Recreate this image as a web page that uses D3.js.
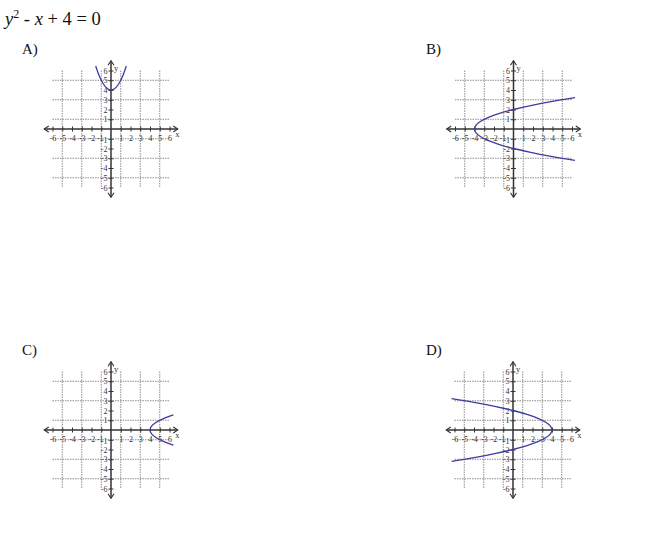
<!DOCTYPE html>
<html><head><meta charset="utf-8">
<script src="https://cdn.jsdelivr.net/npm/d3@7"></script>
<style>
html,body{margin:0;padding:0;background:#fff;}
svg text{font-family:"Liberation Serif","DejaVu Serif",serif;}
</style></head>
<body>
<svg id="chart" width="650" height="536"></svg>
<script>
// ---- data ----
const panelLabels = ["A)", "B)", "C)", "D)"];
const tickValues = [-6, -5, -4, -3, -2, -1, 1, 2, 3, 4, 5, 6];
const gridValues = [-5, -3, -1, 1, 3, 5];
// curve points [x, y]
const curveA = [[-1.57,6.46],[-1.2,5.44],[-0.8,4.64],[-0.4,4.16],[0,4],[0.4,4.16],[0.8,4.64],[1.2,5.44],[1.57,6.46]];
const curveB = [[6.3,-3.21],[3.84,-2.8],[1.76,-2.4],[0,-2],[-1.44,-1.6],[-2.56,-1.2],[-3.36,-0.8],[-3.84,-0.4],[-4,0],[-3.84,0.4],[-3.36,0.8],[-2.56,1.2],[-1.44,1.6],[0,2],[1.76,2.4],[3.84,2.8],[6.3,3.21]];
const curveC = [[6.4,-1.55],[5.44,-1.2],[4.64,-0.8],[4.16,-0.4],[4,0],[4.16,0.4],[4.64,0.8],[5.44,1.2],[6.4,1.55]];
const curveD = [[-6.3,-3.21],[-3.84,-2.8],[-1.76,-2.4],[0,-2],[1.44,-1.6],[2.56,-1.2],[3.36,-0.8],[3.84,-0.4],[4,0],[3.84,0.4],[3.36,0.8],[2.56,1.2],[1.44,1.6],[0,2],[-1.76,2.4],[-3.84,2.8],[-6.3,3.21]];
const curves = [curveA, curveB, curveC, curveD];

// ---- layout ----
const FONT = "Liberation Serif, DejaVu Serif, serif";
const unit = 9.75;
const origins = [[111,129],[513.5,129],[111,430],[513,430]];
const labelPos = [[22,54],[426,54],[22,355],[426,355]];
const svg = d3.select("#chart");

const defs = svg.append("defs");
defs.append("marker").attr("id","arr").attr("viewBox","-6 -4 7 8")
  .attr("refX",0).attr("refY",0).attr("markerWidth",7).attr("markerHeight",8)
  .attr("markerUnits","userSpaceOnUse").attr("orient","auto")
  .append("path").attr("d","M-4.5,-3 L0,0 L-4.5,3").attr("fill","none")
  .attr("stroke","#333").attr("stroke-width",1.1);

// title
const title = svg.append("text").attr("x",5).attr("y",25).attr("font-size",18.5)
  .attr("font-family",FONT).attr("fill","#111");
title.append("tspan").attr("font-style","italic").text("y");
title.append("tspan").attr("font-size",12).attr("dy",-7.5).text("2");
title.append("tspan").attr("dy",7.5).text(" - ");
title.append("tspan").attr("font-style","italic").text("x");
title.append("tspan").text(" + 4 = 0");

panelLabels.forEach((lab, i) => {
  svg.append("text").attr("x",labelPos[i][0]).attr("y",labelPos[i][1])
    .attr("font-family",FONT).attr("font-size",15).attr("fill","#111").text(lab);

  const [ox, oy] = origins[i];
  const x = d3.scaleLinear().domain([-6,6]).range([ox-6*unit, ox+6*unit]);
  const y = d3.scaleLinear().domain([-6,6]).range([oy+6*unit, oy-6*unit]);
  const g = svg.append("g");

  // grid
  const grid = g.append("g").attr("stroke","#8c8c8c").attr("stroke-width",1)
    .attr("stroke-dasharray","1.5,1");
  gridValues.forEach(v => {
    grid.append("line").attr("x1",x(v)).attr("x2",x(v)).attr("y1",y(6)).attr("y2",y(-6));
    grid.append("line").attr("y1",y(v)).attr("y2",y(v)).attr("x1",x(-6)).attr("x2",x(6));
  });

  // axes lines with arrows
  [[-6.85,0],[6.85,0],[0,7],[0,-7]].forEach(([ex,ey]) => {
    g.append("line").attr("x1",x(0)).attr("x2",x(ex)).attr("y1",y(0)).attr("y2",y(ey))
      .attr("stroke","#333").attr("stroke-width",1.5).attr("marker-end","url(#arr)");
  });

  const fmt = d => d < 0 ? "-" + Math.abs(d) : String(d);

  // x axis ticks & labels
  const xa = g.append("g").attr("transform",`translate(0,${y(0)})`)
    .call(d3.axisBottom(x).tickValues(tickValues).tickSize(2.5).tickPadding(3.5).tickFormat(fmt));
  xa.attr("font-family",FONT);
  xa.select(".domain").remove();
  xa.selectAll(".tick line").attr("y1",-2.5).attr("y2",2.5).attr("stroke","#333").attr("stroke-width",1);
  xa.selectAll(".tick text").attr("font-family",FONT).attr("font-size",8).attr("fill","#333")
    .attr("dx", d => d === -1 ? -1.5 : 0);

  // y axis ticks & labels
  const ya = g.append("g").attr("transform",`translate(${x(0)},0)`)
    .call(d3.axisLeft(y).tickValues(tickValues).tickSize(2.5).tickPadding(1).tickFormat(fmt));
  ya.attr("font-family",FONT);
  ya.select(".domain").remove();
  ya.selectAll(".tick line").attr("x1",-2.5).attr("x2",2.5).attr("stroke","#333").attr("stroke-width",1);
  ya.selectAll(".tick text").attr("font-family",FONT).attr("font-size",8).attr("fill","#333")
    .attr("dy", d => d === -1 ? "0.5em" : "0.32em");

  // axis names
  g.append("text").attr("x",x(0)+3).attr("y",y(6.1)+1).attr("font-family",FONT)
    .attr("font-size",8.5).attr("fill","#333").text("y");
  g.append("text").attr("x",x(6.6)).attr("y",y(0)+8).attr("font-family",FONT)
    .attr("font-size",8.5).attr("fill","#333").text("x");

  // curve
  const line = d3.line().x(d => x(d[0])).y(d => y(d[1])).curve(d3.curveCatmullRom);
  g.append("path").datum(curves[i]).attr("d",line).attr("fill","none")
    .attr("stroke","#3c3ca0").attr("stroke-width",1.3);
});
</script>
</body></html>
